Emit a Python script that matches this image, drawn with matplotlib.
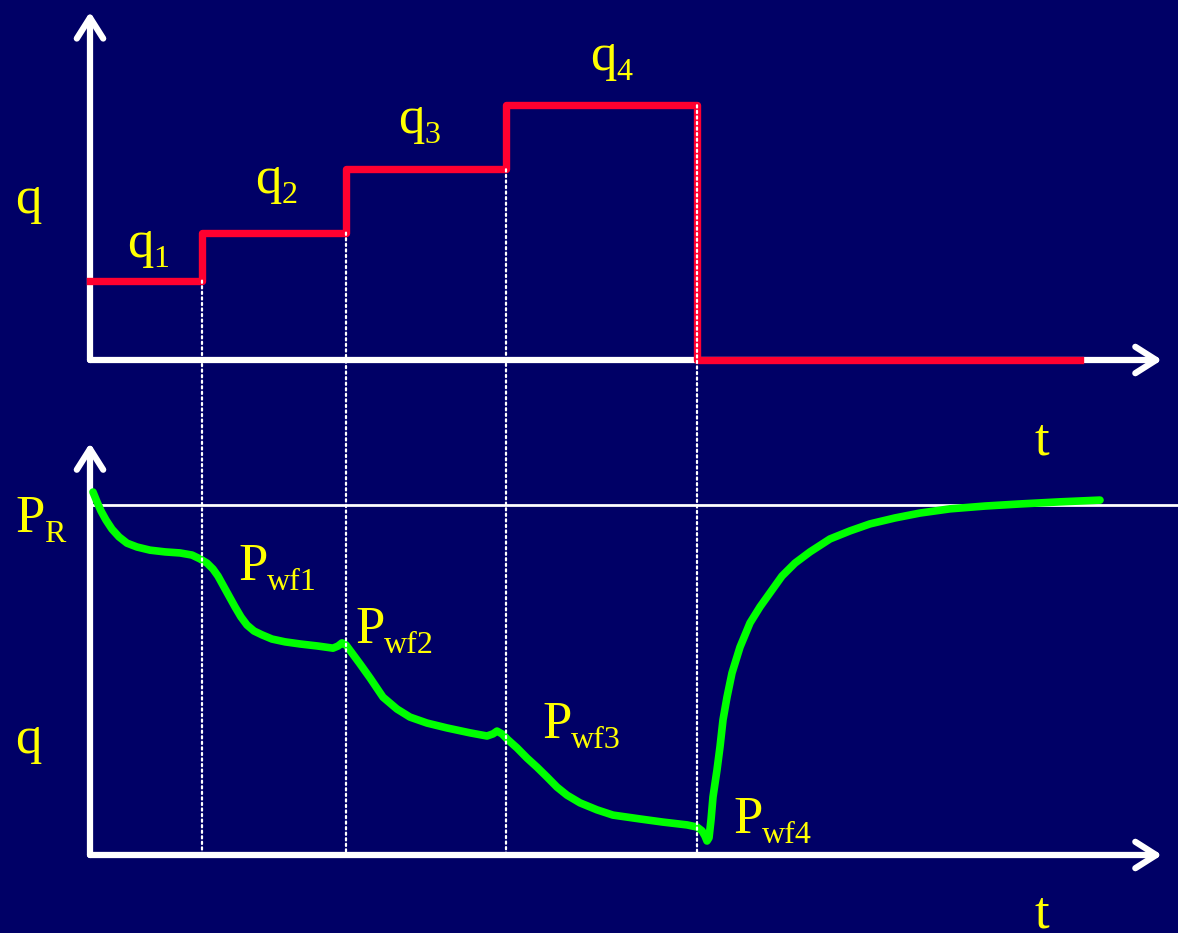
import matplotlib
matplotlib.use('Agg')
import matplotlib.pyplot as plt
from matplotlib.patches import FancyArrowPatch, ConnectionPatch

matplotlib.rcParams['font.family'] = ['Liberation Serif', 'DejaVu Serif']

BG = '#000066'
RED = '#ff0030'
GREEN = '#00ff00'
YELLOW = '#ffff00'

# 阶梯产量：换产时刻与各段产量
step_times = [0.0, 1.12, 2.56, 4.16, 6.07, 9.90]
rates = [1.24, 1.99, 2.98, 3.98, 0.0, 0.0]
rate_subs = ['1', '2', '3', '4']

# 井底流压响应
p_time = [0.03, 0.07, 0.11, 0.16, 0.22, 0.29, 0.37, 0.47, 0.60, 0.75, 0.90, 1.02,
          1.10, 1.17, 1.23, 1.28, 1.33, 1.39, 1.45, 1.51, 1.57, 1.64, 1.72, 1.82,
          1.95, 2.10, 2.28, 2.43, 2.48, 2.52, 2.56,
          2.62, 2.70, 2.80, 2.93, 3.07, 3.20, 3.37, 3.57, 3.80, 3.97, 4.03, 4.07,
          4.12, 4.18, 4.27, 4.37, 4.47,
          4.57, 4.67, 4.77, 4.90, 5.07, 5.23, 5.50, 5.73, 5.97, 6.07, 6.12, 6.15, 6.17,
          6.19, 6.21, 6.23, 6.27, 6.30, 6.33, 6.37, 6.42, 6.50, 6.60, 6.70, 6.80,
          6.92, 7.05, 7.20, 7.40, 7.60, 7.80, 8.05, 8.30, 8.60, 8.95, 9.30, 9.70,
          10.10]
p_wf = [10.37, 10.09, 9.83, 9.57, 9.31, 9.09, 8.91, 8.80, 8.71, 8.66, 8.63, 8.57,
        8.46, 8.34, 8.17, 7.97, 7.71, 7.40, 7.09, 6.80, 6.57, 6.40, 6.29, 6.17,
        6.09, 6.03, 5.97, 5.91, 5.97, 6.06, 6.00,
        5.77, 5.46, 5.06, 4.51, 4.17, 3.94, 3.77, 3.63, 3.49, 3.40, 3.46, 3.54,
        3.46, 3.29, 3.06, 2.77, 2.51,
        2.23, 1.94, 1.71, 1.49, 1.29, 1.14, 1.03, 0.94, 0.86, 0.80, 0.69, 0.54, 0.40,
        0.49, 1.00, 1.66, 2.43, 3.09, 3.86, 4.51, 5.20, 5.94, 6.63, 7.09, 7.49,
        7.97, 8.34, 8.66, 9.03, 9.26, 9.46, 9.63, 9.77, 9.89, 9.97, 10.03, 10.09,
        10.14]
p_res = 10.0
pwf_subs = ['wf1', 'wf2', 'wf3', 'wf4']

FS_MAIN = 38
FS_SUB = 23


def axis_arrow(ax, start, end):
    arr = FancyArrowPatch(start, end, arrowstyle='->,head_length=15,head_width=9.5',
                          mutation_scale=1, lw=4.5, color='white', shrinkA=0, shrinkB=0,
                          joinstyle='round', capstyle='round', clip_on=False, zorder=2)
    ax.add_patch(arr)


def label(ax, main, sub, pos):
    # 主字母与下标分开写，下标紧跟主字母右侧、字号更小、位置更低
    t = ax.text(pos[0], pos[1], main, color=YELLOW, fontsize=FS_MAIN, va='baseline')
    if sub:
        ax.annotate(sub, xy=(1, 0), xycoords=t, xytext=(0, 1), textcoords='offset pixels',
                    color=YELLOW, fontsize=FS_SUB, va='baseline', ha='left')


fig = plt.figure(figsize=(11.78, 9.33), dpi=100, facecolor=BG)
ax1 = fig.add_axes([90 / 1178, 573 / 933, 1088 / 1178, 360 / 933])
ax2 = fig.add_axes([90 / 1178, 78 / 933, 1088 / 1178, 472.5 / 933])
for ax in (ax1, ax2):
    ax.set_xlim(0, 10.88)
    ax.axis('off')
ax1.set_ylim(0, 5.625)
ax2.set_ylim(0, 13.5)

# 坐标轴
axis_arrow(ax1, (0, 0), (0, 5.44))
axis_arrow(ax1, (0, 0), (10.72, 0))
axis_arrow(ax2, (0, 0), (0, 11.77))
axis_arrow(ax2, (0, 0), (10.72, 0))

# 产量阶梯线
ax1.plot(step_times, rates, drawstyle='steps-post', color=RED, lw=5.3,
         solid_joinstyle='round', clip_on=False, zorder=3)

# 换产时刻的竖直虚线
for i in range(1, 5):
    con = ConnectionPatch(xyA=(step_times[i], rates[i - 1]), coordsA=ax1.transData,
                          xyB=(step_times[i], 0), coordsB=ax2.transData,
                          color='white', lw=1.6, linestyle=(0, (1, 1.5)), zorder=4)
    fig.add_artist(con)

# 原始地层压力线与流压曲线
ax2.plot([0, 10.88], [p_res, p_res], color='white', lw=2, clip_on=False, zorder=2)
ax2.plot(p_time, p_wf, color=GREEN, lw=5.5, solid_joinstyle='round',
         solid_capstyle='round', clip_on=False, zorder=3)

# 文字标注
q_pos = [(0.37, 1.61), (1.65, 2.61), (3.08, 3.55), (5.00, 4.53)]
for s, p in zip(rate_subs, q_pos):
    label(ax1, 'q', s, p)
label(ax1, 'q', None, (-0.75, 2.30))

pwf_pos = [(1.48, 7.86), (2.65, 6.06), (4.52, 3.34), (6.43, 0.63)]
for s, p in zip(pwf_subs, pwf_pos):
    label(ax2, 'P', s, p)
label(ax2, 'P', 'R', (-0.75, 9.23))
label(ax2, 'q', None, (-0.75, 2.91))
label(ax2, 't', None, (9.45, 11.43))
label(ax2, 't', None, (9.45, -2.06))

fig.savefig('out.png', dpi=100, facecolor=BG)
